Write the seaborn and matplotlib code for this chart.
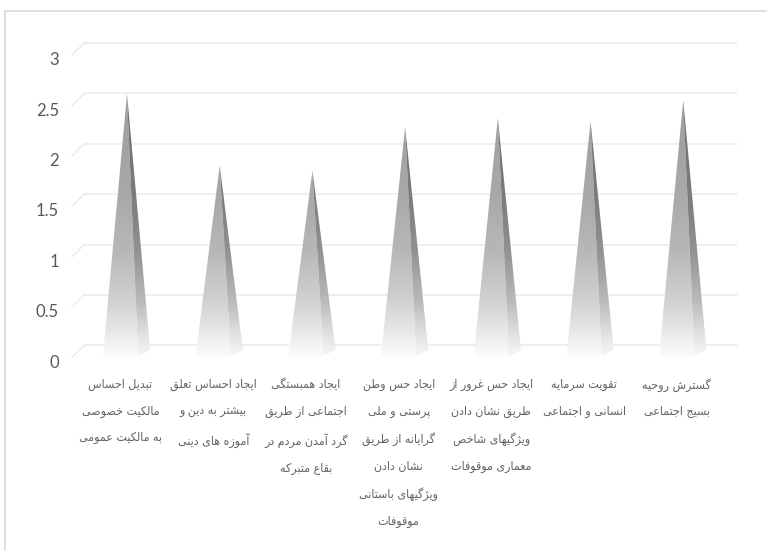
import numpy as np
import pandas as pd
import matplotlib
matplotlib.use("Agg")
import matplotlib.pyplot as plt
import matplotlib.transforms as mtransforms
from matplotlib.patches import Polygon
from matplotlib.lines import Line2D
import seaborn as sns

# ---- data -------------------------------------------------------------
categories = [
    "تبدیل احساس\nمالکیت خصوصی\nبه مالکیت عمومی",
    "ایجاد احساس تعلق\nبیشتر به دین و\nآموزه های دینی",
    "ایجاد همبستگی\nاجتماعی از طریق\nگرد آمدن مردم در\nبقاع متبرکه",
    "ایجاد حس وطن\nپرستی و ملی\nگرایانه از طریق\nنشان دادن\nویژگیهای باستانی\nموقوفات",
    "ایجاد حس غرور از\nطریق نشان دادن\nویژگیهای شاخص\nمعماری موقوفات",
    "تقویت سرمایه\nانسانی و اجتماعی",
    "گسترش روحیه\nبسیج اجتماعی",
]
values = [2.56, 1.85, 1.80, 2.23, 2.32, 2.29, 2.50]
y_ticks = [0, 0.5, 1, 1.5, 2, 2.5, 3]
y_tick_labels = ["0", "0.5", "1", "1.5", "2", "2.5", "3"]

# ---- Persian shaping (contextual forms + right-to-left order) ---------
FORMS = {
    'ا': ('\uFE8D', '\uFE8E', None, None),
    'آ': ('\uFE81', '\uFE82', None, None),
    'ب': ('\uFE8F', '\uFE90', '\uFE91', '\uFE92'),
    'پ': ('\uFB56', '\uFB57', '\uFB58', '\uFB59'),
    'ت': ('\uFE95', '\uFE96', '\uFE97', '\uFE98'),
    'ث': ('\uFE99', '\uFE9A', '\uFE9B', '\uFE9C'),
    'ج': ('\uFE9D', '\uFE9E', '\uFE9F', '\uFEA0'),
    'چ': ('\uFB7A', '\uFB7B', '\uFB7C', '\uFB7D'),
    'ح': ('\uFEA1', '\uFEA2', '\uFEA3', '\uFEA4'),
    'خ': ('\uFEA5', '\uFEA6', '\uFEA7', '\uFEA8'),
    'د': ('\uFEA9', '\uFEAA', None, None),
    'ذ': ('\uFEAB', '\uFEAC', None, None),
    'ر': ('\uFEAD', '\uFEAE', None, None),
    'ز': ('\uFEAF', '\uFEB0', None, None),
    'ژ': ('\uFB8A', '\uFB8B', None, None),
    'س': ('\uFEB1', '\uFEB2', '\uFEB3', '\uFEB4'),
    'ش': ('\uFEB5', '\uFEB6', '\uFEB7', '\uFEB8'),
    'ص': ('\uFEB9', '\uFEBA', '\uFEBB', '\uFEBC'),
    'ض': ('\uFEBD', '\uFEBE', '\uFEBF', '\uFEC0'),
    'ط': ('\uFEC1', '\uFEC2', '\uFEC3', '\uFEC4'),
    'ظ': ('\uFEC5', '\uFEC6', '\uFEC7', '\uFEC8'),
    'ع': ('\uFEC9', '\uFECA', '\uFECB', '\uFECC'),
    'غ': ('\uFECD', '\uFECE', '\uFECF', '\uFED0'),
    'ف': ('\uFED1', '\uFED2', '\uFED3', '\uFED4'),
    'ق': ('\uFED5', '\uFED6', '\uFED7', '\uFED8'),
    'ک': ('\uFB8E', '\uFB8F', '\uFB90', '\uFB91'),
    'گ': ('\uFB92', '\uFB93', '\uFB94', '\uFB95'),
    'ل': ('\uFEDD', '\uFEDE', '\uFEDF', '\uFEE0'),
    'م': ('\uFEE1', '\uFEE2', '\uFEE3', '\uFEE4'),
    'ن': ('\uFEE5', '\uFEE6', '\uFEE7', '\uFEE8'),
    'و': ('\uFEED', '\uFEEE', None, None),
    'ه': ('\uFEE9', '\uFEEA', '\uFEEB', '\uFEEC'),
    'ی': ('\uFBFC', '\uFBFD', '\uFBFE', '\uFBFF'),
}


def shape_line(s):
    out = []
    for i, c in enumerate(s):
        f = FORMS.get(c)
        if f is None:
            out.append(c)
            continue
        prev = s[i - 1] if i > 0 else ''
        nxt = s[i + 1] if i + 1 < len(s) else ''
        joins_prev = prev in FORMS and FORMS[prev][2] is not None
        joins_next = f[2] is not None and nxt in FORMS
        if joins_prev and joins_next:
            out.append(f[3])
        elif joins_prev:
            out.append(f[1])
        elif joins_next:
            out.append(f[2])
        else:
            out.append(f[0])
    return ''.join(out)[::-1]


def shape_text(s):
    return "\n".join(shape_line(line) for line in s.split("\n"))


# ---- figure -----------------------------------------------------------
sns.set_style("white")
plt.rcParams['font.family'] = ['DejaVu Sans']

W, H = 767, 551
fig = plt.figure(figsize=(W / 100, H / 100), dpi=100)
fig.patch.set_facecolor("white")

# outer chart frame (top and left edges)
frame_col = "#d9d9d9"
fig.add_artist(Line2D([5 / W, 1.0], [1 - 11 / H, 1 - 11 / H],
                      transform=fig.transFigure, color=frame_col, lw=1.2))
fig.add_artist(Line2D([5 / W, 5 / W], [0, 1 - 11 / H],
                      transform=fig.transFigure, color=frame_col, lw=1.2))

px_left, px_right = 84, 737
px_top, px_bot = 39.52, 362.08
ax = fig.add_axes([px_left / W, (H - px_bot) / H,
                   (px_right - px_left) / W, (px_bot - px_top) / H])

df = pd.DataFrame({"item": categories, "score": values})
sns.barplot(data=df, x="item", y="score", width=0.38, color="#aaaaaa",
            ax=ax, errorbar=None)

x_lo, x_hi = -0.394, 6.65
y_lo, y_hi = -0.1, 3.1
ax.set_xlim(x_lo, x_hi)
ax.set_ylim(y_lo, y_hi)

# 3D-style back wall grid with short floor edges on the left
grid_col = "#ebebeb"
back_dy = 0.0645
for v in y_ticks:
    ax.plot([x_lo, x_hi], [v + back_dy, v + back_dy], color=grid_col,
            lw=1.1, zorder=0, clip_on=False)
    ax.plot([x_lo - 0.129, x_lo], [v - 0.055, v + back_dy], color=grid_col,
            lw=1.1, zorder=0, clip_on=False)

# vertical shading for the two visible faces of each pyramid
front_stops = [(-0.1, 0.99), (0.0, 0.975), (0.2, 0.91), (0.5, 0.82),
               (1.0, 0.72), (1.5, 0.665), (2.5, 0.62), (3.1, 0.60)]
side_stops = [(-0.1, 0.97), (0.0, 0.95), (0.2, 0.87), (0.5, 0.73),
              (1.0, 0.57), (1.5, 0.49), (2.5, 0.43), (3.1, 0.41)]


def gradient_image(stops, n=300):
    ys = np.linspace(y_lo, y_hi, n)
    g = np.interp(ys, [s[0] for s in stops], [s[1] for s in stops])
    img = np.repeat(g[:, None], 2, axis=1)
    return np.dstack([img, img, img])


front_img = gradient_image(front_stops)
side_img = gradient_image(side_stops)

apex_dx = 0.07
side_w = 0.13
for bar in list(ax.patches):
    cx = bar.get_x() + bar.get_width() / 2
    hw = bar.get_width() / 2
    h = bar.get_height()
    bar.set_visible(False)

    front = Polygon([(cx - hw, -0.04), (cx + hw, -0.04), (cx + apex_dx, h)],
                    closed=True, facecolor="none", edgecolor="none")
    side = Polygon([(cx + hw, -0.04), (cx + hw + side_w, 0.02),
                    (cx + apex_dx, h)],
                   closed=True, facecolor="none", edgecolor="none")
    for poly, img in ((front, front_img), (side, side_img)):
        ax.add_patch(poly)
        im = ax.imshow(img, extent=[cx - hw - 0.02, cx + hw + side_w + 0.02,
                                    y_lo, y_hi],
                       origin="lower", aspect="auto", interpolation="bilinear",
                       zorder=2)
        im.set_clip_path(poly)

ax.set_xlim(x_lo, x_hi)
ax.set_ylim(y_lo, y_hi)

for s in ax.spines.values():
    s.set_visible(False)
ax.set_xlabel("")
ax.set_ylabel("")

# y axis labels, drawn at the front edge of the floor
ax.set_yticks(y_ticks)
ax.set_yticklabels(y_tick_labels, fontsize=12, color="#595959",
                   family=["Lato", "DejaVu Sans"])
ax.tick_params(axis="y", length=0, pad=18)
shift = mtransforms.ScaledTranslation(0, -0.09, fig.dpi_scale_trans)
for lab in ax.get_yticklabels():
    lab.set_transform(lab.get_transform() + shift)

# category labels: fit them to the column width, line pitch and offset
ax.set_xticks(range(len(categories)))
labels_fa = [shape_text(c) for c in categories]
col_width_px = 575      # summed width of the widest lines
line_pitch_px = 27.6
first_top_px = 378      # top of the first label line, from the figure top

size, spacing, pad = 8.5, 2.3, 12.0
for _ in range(3):
    ax.set_xticklabels(labels_fa, fontsize=size, color="#636363",
                       linespacing=spacing, ha="center",
                       fontstretch="condensed")
    ax.tick_params(axis="x", length=0, pad=pad)
    fig.canvas.draw()
    rend = fig.canvas.get_renderer()
    boxes = [t.get_window_extent(rend) for t in ax.get_xticklabels()]
    total_w = sum(b.width for b in boxes)
    pitch = (boxes[3].height - boxes[5].height) / 4.0
    size *= col_width_px / total_w
    spacing *= line_pitch_px / pitch
    top_px = H - max(b.y1 for b in boxes)
    pad += (first_top_px - top_px) * 0.72

ax.set_xticklabels(labels_fa, fontsize=size, color="#636363",
                   linespacing=spacing, ha="center", fontstretch="condensed")
ax.tick_params(axis="x", length=0, pad=pad)

fig.savefig("out.png", dpi=100)
